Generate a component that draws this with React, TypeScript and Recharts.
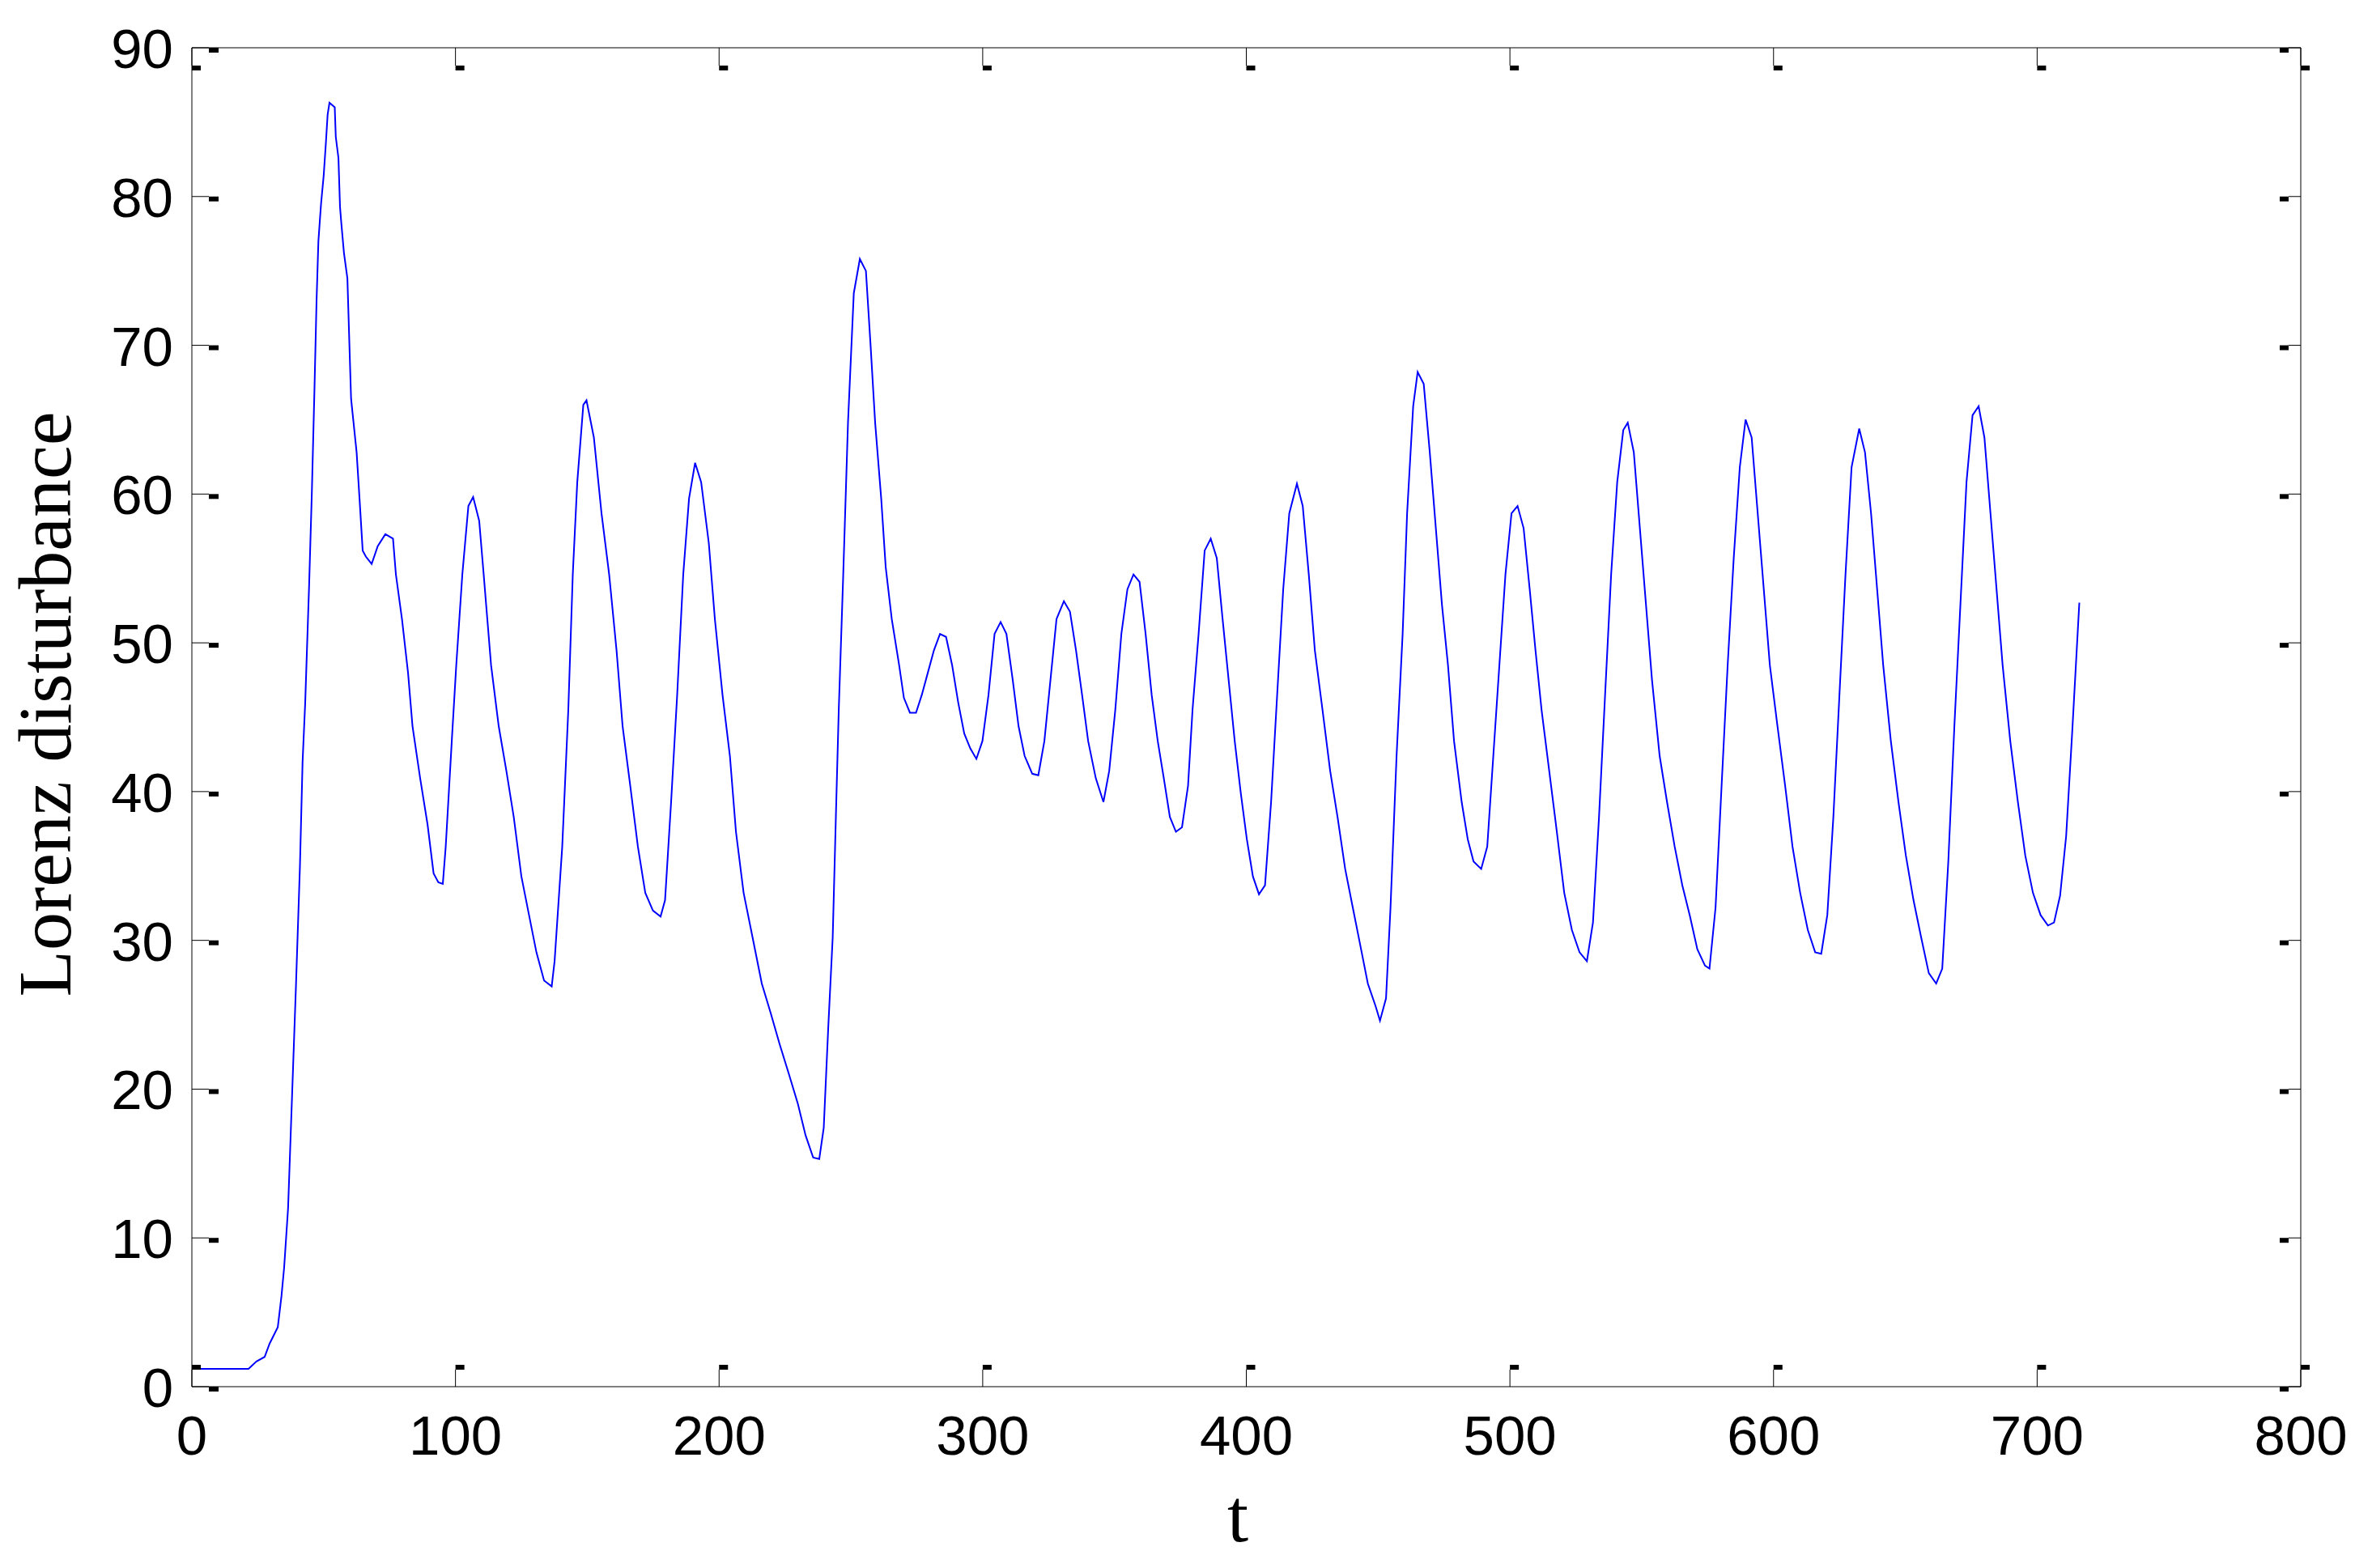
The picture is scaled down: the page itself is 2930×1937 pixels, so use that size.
import React from 'react';
import { LineChart, Line, XAxis, YAxis } from 'recharts';

const tValues = [0, 21.5, 24.5, 27.6, 29.5, 32.6, 34, 35, 36.5, 37.5, 38.5, 39.5, 41, 42, 43, 44.5, 45.5, 46.5, 47.3, 48, 49, 50, 50.8, 51.5, 52.2, 54.2, 54.6, 55.6, 56.2, 56.7, 57.7, 59, 59.6, 60.4, 62.5, 63.6, 64.8, 66, 68.2, 70.5, 73.4, 76.3, 77.4, 79.7, 82, 83.7, 86.6, 89.4, 91.7, 93.5, 95.2, 96.3, 98.6, 100.3, 102.6, 104.9, 106.7, 109, 110.7, 113.5, 116.4, 119.3, 122.1, 125, 127.9, 130.7, 133.6, 136.5, 137.6, 140.5, 142.8, 144.5, 146.2, 148.5, 149.7, 152.5, 155.4, 158.3, 161.1, 163.4, 166.3, 169.2, 172, 174.9, 177.8, 179.5, 181.8, 184.1, 186.4, 188.6, 190.9, 193.2, 196.1, 198.4, 201.3, 204.1, 206.4, 209.3, 212.7, 216.2, 219.6, 223, 226.5, 229.9, 232.8, 235.7, 238, 239.7, 241.4, 243.1, 244.3, 245.4, 247.1, 248.9, 251.1, 253.4, 255.7, 257.5, 259.2, 261.5, 263.2, 265.5, 268.3, 270.1, 272.4, 274.7, 276.9, 279.2, 281.5, 283.8, 286.1, 288.4, 290.7, 293, 295.3, 297.6, 299.9, 302.2, 304.5, 306.8, 309, 311.4, 313.6, 315.9, 318.8, 321.1, 323.4, 325.7, 328, 330.8, 333.1, 335.4, 337.7, 340, 342.9, 345.8, 348, 350.3, 352.6, 354.9, 357.2, 359.5, 361.8, 364.1, 366.4, 368.7, 371, 373.3, 375.6, 377.9, 379.6, 381.9, 384.2, 386.5, 388.8, 391, 393.3, 395.6, 397.9, 400.2, 402.5, 404.8, 407.1, 409.4, 411.7, 414, 416.3, 419.2, 421.4, 423.7, 426, 428.9, 431.8, 434.6, 437.5, 440.4, 443.2, 446.1, 449, 450.7, 453, 454.7, 457, 459.3, 461, 463.3, 465, 467.3, 469.6, 471.9, 474.2, 476.5, 478.8, 481.7, 484, 486.2, 489.1, 491.4, 493.7, 496, 498.3, 500.6, 502.9, 505.2, 507.5, 509.7, 512, 514.9, 517.8, 520.6, 523.5, 526.4, 529.2, 531.5, 533.8, 536.1, 538.4, 540.7, 543, 544.7, 547, 549.3, 551.6, 553.9, 556.8, 559.6, 562.5, 565.4, 568.2, 571.1, 574, 575.7, 578, 580.3, 582.6, 584.9, 587.2, 589.4, 591.7, 594, 596.3, 598.6, 601.5, 604.4, 607.2, 610.1, 613, 615.8, 618.1, 620.4, 622.7, 625, 627.3, 629.6, 632.5, 634.7, 637, 639.3, 641.6, 644.5, 647.4, 650.2, 653.1, 656, 658.9, 661.7, 664, 666.3, 668.6, 670.9, 673.2, 675.5, 677.8, 680, 682.3, 684.6, 686.9, 689.8, 692.7, 695.5, 698.4, 701.3, 704.1, 706.4, 708.7, 711, 713.3, 716];

const disturbance = [1.2, 1.2, 1.7, 2.0, 2.9, 4.0, 6.1, 8, 12, 17, 22, 27, 35, 42, 46, 54, 60, 67, 73, 77, 79.5, 81.4, 83.5, 85.5, 86.3, 86, 84, 82.6, 79.3, 78.2, 76.2, 74.5, 71, 66.4, 62.8, 59.7, 56.2, 55.8, 55.3, 56.5, 57.3, 57, 54.6, 51.6, 48, 44.4, 40.9, 37.8, 34.5, 33.9, 33.8, 36.3, 43.4, 48.5, 54.6, 59.2, 59.8, 58.2, 54.6, 48.5, 44.4, 41.4, 38.3, 34.3, 31.7, 29.2, 27.3, 26.9, 28.6, 36.3, 45.5, 54.6, 60.8, 66, 66.3, 63.8, 58.7, 54.6, 49.5, 44.4, 40.4, 36.3, 33.2, 32, 31.6, 32.7, 39.3, 46.5, 54.6, 59.7, 62.1, 60.8, 56.7, 51.6, 46.5, 42.4, 37.3, 33.2, 30.2, 27.1, 25.1, 23, 21, 19, 16.9, 15.4, 15.3, 17.4, 24.1, 30.2, 38.3, 45.5, 54.6, 64.8, 73.5, 75.8, 75, 69.9, 64.8, 59.7, 55.1, 51.6, 48.5, 46.3, 45.3, 45.3, 46.5, 48, 49.5, 50.6, 50.4, 48.5, 46, 43.9, 42.9, 42.2, 43.4, 46.5, 50.6, 51.4, 50.6, 47.5, 44.4, 42.4, 41.2, 41.1, 43.4, 47.5, 51.6, 52.8, 52.1, 49.5, 46.5, 43.4, 40.9, 39.3, 41.4, 45.5, 50.6, 53.6, 54.6, 54.1, 50.6, 46.5, 43.4, 40.9, 38.3, 37.3, 37.6, 40.4, 45.5, 50.6, 56.2, 57, 55.7, 51.6, 47.5, 43.4, 39.9, 36.8, 34.3, 33.1, 33.7, 39.3, 46.5, 53.6, 58.7, 60.7, 59.2, 54.6, 49.5, 45.5, 41.4, 38.3, 34.8, 32.2, 29.7, 27.1, 25.6, 24.6, 26.1, 32.2, 42.4, 50.6, 58.7, 65.9, 68.2, 67.4, 62.8, 57.7, 52.6, 48.5, 43.4, 39.3, 36.8, 35.3, 34.8, 36.3, 42.4, 48.5, 54.6, 58.7, 59.2, 57.7, 53.6, 49.5, 45.5, 41.4, 37.3, 33.2, 30.7, 29.2, 28.6, 31.2, 38.3, 46.5, 54.6, 60.8, 64.3, 64.8, 62.8, 57.7, 52.6, 47.5, 42.4, 39.3, 36.3, 33.7, 31.7, 29.4, 28.3, 28.1, 32.2, 40.4, 48.5, 55.7, 61.8, 65, 63.8, 58.7, 53.6, 48.5, 44.4, 40.4, 36.3, 33.2, 30.7, 29.2, 29.1, 31.7, 38.3, 46.5, 54.6, 61.8, 64.4, 62.8, 58.7, 53.6, 48.5, 43.4, 39.3, 35.7, 32.7, 30.2, 27.8, 27.1, 28.1, 35.3, 44.4, 52.6, 60.8, 65.3, 65.9, 63.8, 58.7, 53.6, 48.5, 43.4, 39.3, 35.7, 33.2, 31.7, 31, 31.2, 33, 37, 44, 52.7];

const xTicks = [0, 100, 200, 300, 400, 500, 600, 700, 800];
const yTicks = [0, 10, 20, 30, 40, 50, 60, 70, 80, 90];

const data = tValues.map((t, i) => ({ t, v: disturbance[i] }));

const TICK_FONT = '"Liberation Sans", Arial, Helvetica, sans-serif';
const LABEL_FONT = '"Liberation Serif", "Times New Roman", serif';

const BottomTick = (props: any) => {
  const { x, y, payload } = props;
  return (
    <g>
      <line x1={x} x2={x} y1={y} y2={y - 21} stroke="#000" strokeWidth={1} />
      <rect x={x} y={y - 27} width={11} height={6} fill="#000" />
      <text x={x} y={y + 84} textAnchor="middle" fontFamily={TICK_FONT} fontSize={69} fill="#000">
        {payload.value}
      </text>
    </g>
  );
};

const TopTick = (props: any) => {
  const { x, y } = props;
  return (
    <g>
      <line x1={x} x2={x} y1={y} y2={y + 22} stroke="#000" strokeWidth={1} />
      <rect x={x} y={y + 22} width={11} height={6} fill="#000" />
    </g>
  );
};

const LeftTick = (props: any) => {
  const { x, y, payload } = props;
  return (
    <g>
      <line x1={x} x2={x + 21} y1={y} y2={y} stroke="#000" strokeWidth={1} />
      <rect x={x + 21} y={y} width={12} height={6} fill="#000" />
      <text x={x - 23} y={y + 25} textAnchor="end" fontFamily={TICK_FONT} fontSize={69} fill="#000">
        {payload.value}
      </text>
    </g>
  );
};

const RightTick = (props: any) => {
  const { x, y } = props;
  return (
    <g>
      <line x1={x} x2={x - 15} y1={y} y2={y} stroke="#000" strokeWidth={1} />
      <rect x={x - 26} y={y} width={11} height={6} fill="#000" />
    </g>
  );
};

export default function App() {
  return (
    <div style={{ position: 'absolute', left: 0, top: 0, width: 2930, height: 1937, background: '#fff' }}>
      <LineChart width={2930} height={1937} data={data} margin={{ top: 0, right: 0, bottom: 0, left: 0 }}>
        <XAxis
          xAxisId="bottom"
          dataKey="t"
          type="number"
          domain={[0, 800]}
          ticks={xTicks}
          interval={0}
          orientation="bottom"
          height={224}
          tickSize={0}
          tickMargin={0}
          tickLine={false}
          axisLine={{ stroke: '#000', strokeWidth: 1 }}
          tick={<BottomTick />}
          allowDataOverflow
        />
        <XAxis
          xAxisId="top"
          dataKey="t"
          type="number"
          domain={[0, 800]}
          ticks={xTicks}
          interval={0}
          orientation="top"
          height={59}
          tickSize={0}
          tickMargin={0}
          tickLine={false}
          axisLine={{ stroke: '#000', strokeWidth: 1 }}
          tick={<TopTick />}
          allowDataOverflow
        />
        <YAxis
          yAxisId="left"
          type="number"
          domain={[0, 90]}
          ticks={yTicks}
          interval={0}
          orientation="left"
          width={237}
          tickSize={0}
          tickMargin={0}
          tickLine={false}
          axisLine={{ stroke: '#000', strokeWidth: 1 }}
          tick={<LeftTick />}
          allowDataOverflow
        />
        <YAxis
          yAxisId="right"
          type="number"
          domain={[0, 90]}
          ticks={yTicks}
          interval={0}
          orientation="right"
          width={88}
          tickSize={0}
          tickMargin={0}
          tickLine={false}
          axisLine={{ stroke: '#000', strokeWidth: 1 }}
          tick={<RightTick />}
          allowDataOverflow
        />
        <Line
          xAxisId="bottom"
          yAxisId="left"
          type="linear"
          dataKey="v"
          stroke="#0000FF"
          strokeWidth={2}
          dot={false}
          activeDot={false}
          isAnimationActive={false}
        />
      </LineChart>
      <svg
        width={2930}
        height={1937}
        style={{ position: 'absolute', left: 0, top: 0, pointerEvents: 'none' }}
      >
        <text x={1529} y={1904} textAnchor="middle" fontFamily={LABEL_FONT} fontSize={94} fill="#000">
          t
        </text>
        <text
          x={0}
          y={0}
          transform="translate(87, 870) rotate(-90)"
          textAnchor="middle"
          fontFamily={LABEL_FONT}
          fontSize={94}
          fill="#000"
        >
          Lorenz disturbance
        </text>
      </svg>
    </div>
  );
}
